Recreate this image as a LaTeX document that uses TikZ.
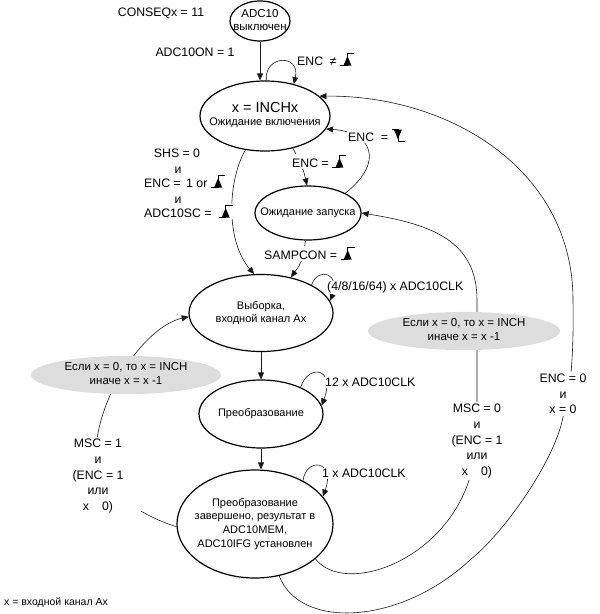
\documentclass[tikz,border=0pt]{standalone}
\usepackage{fontspec}
\setmainfont{Liberation Sans}
\usetikzlibrary{shapes.geometric,arrows.meta}
\definecolor{condgray}{RGB}{221,221,221}
\definecolor{linecol}{RGB}{25,25,25}
\newcommand{\risesym}{\tikz[baseline=0pt,x=1pt,y=1pt,line width=0.6pt]{\draw (0,0)--(7,0)--(7,12)--(14,12); \fill (7,9.5)--(3,0)--(11,0)--cycle;}}
\newcommand{\fallsym}{\tikz[baseline=0pt,x=1pt,y=1pt,line width=0.6pt]{\draw (0,12)--(6,12)--(6,0)--(13,0); \fill (6,2.5)--(2,12)--(10,12)--cycle;}}
\newcommand{\ctext}[1]{\makebox[0pt]{\begin{tabular}{@{}c@{}}#1\end{tabular}}}
\tikzset{
  stbox/.style={ellipse, draw, line width=1.2pt, inner sep=0pt, font=\fontsize{11}{13.3}\selectfont},
  lbl/.style={font=\fontsize{12.3}{15.7}\selectfont, inner sep=1pt},
  wlbl/.style={lbl, fill=white},
  blk/.style={font=\fontsize{12.3}{15.7}\selectfont, inner sep=2pt, align=center, fill=white},
  cond/.style={ellipse, fill=condgray, inner sep=0pt, font=\fontsize{11.5}{13.5}\selectfont},
  conn/.style={draw=linecol, line width=0.6pt, -{Triangle[length=7pt,width=6pt]}},
  mainarr/.style={conn, line width=0.8pt}
}
\begin{document}
\begin{tikzpicture}[x=1pt,y=-1pt]
\useasboundingbox (0,0) rectangle (600,614);
% states
\node[stbox, minimum width=60, minimum height=40, font=\fontsize{11.5}{13}\selectfont] (off) at (260,21) {\ctext{ADC10\\выключен}};
\node[stbox, minimum width=130, minimum height=70] (wait) at (265,116) {\ctext{{\fontsize{14.5}{15}\selectfont x = INCHx}\\Ожидание включения}};
\node[stbox, minimum width=106, minimum height=54] (start) at (308,213) {\ctext{Ожидание запуска}};
\node[stbox, minimum width=144, minimum height=77] (samp) at (261,313) {\ctext{Выборка,\\входной канал Ax}};
\node[stbox, minimum width=124, minimum height=68] (conv) at (261,414) {\ctext{Преобразование}};
\node[stbox, minimum width=156, minimum height=108, font=\fontsize{11}{13.7}\selectfont] (fin) at (255,524) {\ctext{Преобразование\\завершено, результат в\\ADC10MEM,\\ADC10IFG установлен}};
% connectors
\draw[mainarr] (off.south) -- (off.south |- wait.north);
\draw[conn] (wait.88) .. controls +(-2,-26) and +(7,-30) .. (wait.48);
\draw[conn] (wait.-49) .. controls (303,168) .. (start.92);
\draw[conn] (start.28) .. controls (385,162) and (372,132) .. (wait.-12);
\draw[conn] (wait.-120) .. controls (228,180) and (225,240) .. (samp.100);
\draw[conn] (start.-95) .. controls (302,262) .. (samp.50);
\draw[mainarr] (samp.south) -- (conv.north);
\draw[mainarr] (conv.south) -- (conv.south |- fin.north);
\draw[conn] (samp.29) .. controls (318,266) and (341,274) .. (samp.10);
\draw[conn] (conv.34) .. controls (308,364) and (336,367) .. (conv.8);
\draw[conn] (fin.42) .. controls (306,457) and (336,460) .. (fin.22);
\draw[conn] (fin.182) .. controls (130,512) and (89,480) .. (98,433) .. controls (108,380) and (150,325) .. (samp.183);
\draw[conn] (fin.-30) .. controls (345,597) and (450,560) .. (472,470) .. controls (477,445) and (477,420) .. (477,400) -- (477,300) .. controls (477,240) and (430,224) .. (start.east);
\draw[conn] (fin.-65) .. controls (300,630) and (400,625) .. (470,560) .. controls (505,532) and (555,460) .. (563,417) .. controls (570,395) and (574,360) .. (573,300) .. controls (573,170) and (450,95) .. (wait.20);
% condition ellipses
\node[cond, minimum width=190, minimum height=36] (condL) at (126,375) {\ctext{Если x = 0, то x = INCH\\иначе x = x -1}};
\node[cond, minimum width=192, minimum height=34] (condR) at (464,331) {\ctext{Если x = 0, то x = INCH\\иначе x = x -1}};
% labels
\node[lbl] (cons) at (161,13) {CONSEQx = 11};
\node[lbl] (aon) at (195,52) {ADC10ON = 1};
\node[wlbl, anchor=base west] (encne) at (296,65.5) {ENC \ ≠ \risesym};
\node[wlbl, anchor=base west] (encr) at (291,167.5) {ENC = \risesym};
\node[wlbl, anchor=base west] (encf) at (347,141.5) {ENC \ = \fallsym};
\node[lbl, anchor=base] (shs) at (177,157.5) {SHS = 0};
\node[lbl, anchor=base] (and1) at (178,173.5) {и};
\node[lbl, anchor=base west] (enc1) at (143,187.5) {ENC = \,1 or \risesym};
\node[lbl, anchor=base] (and2) at (178,203.5) {и};
\node[wlbl, anchor=base west] (adcsc) at (143,217.5) {ADC10SC = \ \risesym};
\node[wlbl, anchor=base west] (sampcon) at (263,259.5) {SAMPCON = \risesym};
\node[wlbl, anchor=base west] (clk1) at (326,290.5) {(4/8/16/64) x ADC10CLK};
\node[wlbl, anchor=base west] (clk2) at (324,386.5) {12 x ADC10CLK};
\node[wlbl, anchor=base west] (clk3) at (321,477.5) {1 x ADC10CLK};
\node[blk, minimum width=85] (msc1) at (98,476) {MSC = 1\\и\\(ENC = 1\\или\\x\hspace{13pt}0)};
\node[blk, minimum width=82] (msc0) at (477,441) {MSC = 0\\и\\(ENC = 1\\или\\x\hspace{13pt}0)};
\node[blk, minimum width=70] (enc0) at (563,394) {ENC = 0\\и\\x = 0};
\node[lbl, anchor=base west, font=\fontsize{10.5}{12}\selectfont] (foot) at (3,605.5) {x = входной канал Ax};
\end{tikzpicture}
\end{document}
